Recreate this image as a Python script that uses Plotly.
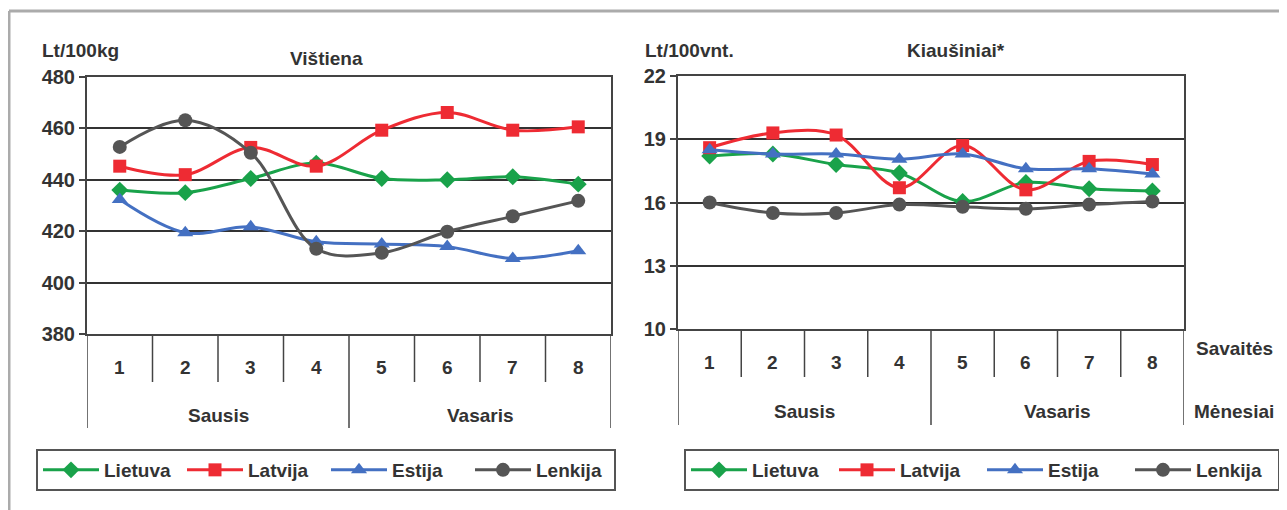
import plotly.graph_objects as go

W, H = 1287, 510
# the page body adds an 8px margin; lay out in reference pixels and shift back
OX, OY = 8, 8

weeks = [1, 2, 3, 4, 5, 6, 7, 8]
week_labels = ["1", "2", "3", "4", "5", "6", "7", "8"]
months = ["Sausis", "Vasaris"]
month_centers = [2.5, 6.5]
countries = ["Lietuva", "Latvija", "Estija", "Lenkija"]

# Viština, Lt/100kg
chicken_lt = [436.0, 435.0, 440.5, 446.5, 440.5, 440.0, 441.2, 438.3]
chicken_lv = [445.3, 442.0, 452.6, 445.3, 459.3, 466.2, 459.3, 460.6]
chicken_ee = [432.3, 419.4, 421.7, 415.9, 415.0, 414.0, 409.4, 412.4]
chicken_pl = [452.8, 463.2, 450.5, 413.2, 411.6, 419.8, 425.8, 431.8]

# Kiaušiniai, Lt/100vnt.
eggs_lt = [18.2, 18.3, 17.8, 17.4, 16.05, 16.95, 16.65, 16.55]
eggs_lv = [18.6, 19.3, 19.2, 16.7, 18.7, 16.6, 17.95, 17.8]
eggs_ee = [18.5, 18.3, 18.3, 18.05, 18.3, 17.6, 17.6, 17.35]
eggs_pl = [16.0, 15.5, 15.5, 15.9, 15.8, 15.7, 15.9, 16.05]

STYLE = {
    "Lietuva": dict(color="#19a24a", symbol="diamond", size=13),
    "Latvija": dict(color="#ee2b33", symbol="square", size=13),
    "Estija": dict(color="#4470c2", symbol="triangle-up", size=14),
    "Lenkija": dict(color="#555555", symbol="circle", size=14),
}
FONT = "Liberation Sans, Arial, sans-serif"
TXT = "#333333"


def px_x(v):
    return (v - OX) / W


def px_y(v):
    return 1 - (v - OY) / H


fig = go.Figure()

for name, vals in zip(countries, [chicken_lt, chicken_lv, chicken_ee, chicken_pl]):
    st = STYLE[name]
    fig.add_trace(go.Scatter(
        x=weeks, y=vals, name=name, mode="lines+markers", xaxis="x", yaxis="y",
        line=dict(color=st["color"], width=3, shape="spline"),
        marker=dict(symbol=st["symbol"], size=st["size"], color=st["color"]),
        legend="legend",
    ))

for name, vals in zip(countries, [eggs_lt, eggs_lv, eggs_ee, eggs_pl]):
    st = STYLE[name]
    fig.add_trace(go.Scatter(
        x=weeks, y=vals, name=name, mode="lines+markers", xaxis="x2", yaxis="y2",
        line=dict(color=st["color"], width=3, shape="spline"),
        marker=dict(symbol=st["symbol"], size=st["size"], color=st["color"]),
        legend="legend2",
    ))

axis_common = dict(showline=True, mirror=True, linecolor="#444", linewidth=2, zeroline=False,
                   automargin=False)
xcommon = dict(axis_common, range=[0.5, 8.5], showgrid=False, showticklabels=False, ticks="")
ycommon = dict(axis_common, showgrid=True, gridcolor="#333", gridwidth=1.5,
               ticks="outside", ticklen=6, tickcolor="#444", tickwidth=1.5,
               tickfont=dict(size=20, color=TXT, family=FONT, weight="bold"))

# panel geometry in reference pixels
panels = [
    dict(x="x", l=87, r=611, t=77, b=334, wd=382, md=428, wy=367, my=415, title="Vištiena",
         tx=326, ty=59, unit="Lt/100kg", ux=40, uy=50),
    dict(x="x2", l=678, r=1184, t=76, b=329, wd=377, md=425, wy=362, my=411, title="Kiaušiniai*",
         tx=956, ty=50, unit="Lt/100vnt.", ux=643, uy=50),
]

fig.update_layout(
    xaxis=dict(xcommon, domain=[px_x(87), px_x(611)], anchor="y"),
    yaxis=dict(ycommon, domain=[px_y(334), px_y(77)], range=[380, 480],
               tickvals=[380, 400, 420, 440, 460, 480], anchor="x"),
    xaxis2=dict(xcommon, domain=[px_x(678), px_x(1184)], anchor="y2"),
    yaxis2=dict(ycommon, domain=[px_y(329), px_y(76)], range=[10, 22],
                tickvals=[10, 13, 16, 19, 22], anchor="x2"),
)

shapes = []
annotations = []


def label(x, y, text, xref="paper", xanchor="center", size=19):
    annotations.append(dict(x=x, y=y, xref=xref, yref="paper", text=text, showarrow=False,
                            xanchor=xanchor, yanchor="middle", font=dict(size=size)))


for p in panels:
    xr = p["x"]
    for k in weeks[:-1]:
        boundary = k + 0.5
        y_end = p["md"] if k == 4 else p["wd"]
        shapes.append(dict(type="line", xref=xr, yref="paper", x0=boundary, x1=boundary,
                           y0=px_y(p["b"]), y1=px_y(y_end), line=dict(color="#444", width=1.5)))
    for edge in (0.5, 8.5):
        shapes.append(dict(type="line", xref=xr, yref="paper", x0=edge, x1=edge,
                           y0=px_y(p["b"]), y1=px_y(p["md"]), line=dict(color="#444", width=1.5)))
    for wk, lab in zip(weeks, week_labels):
        label(wk, px_y(p["wy"]), lab, xref=xr, size=19)
    for mc, mname in zip(month_centers, months):
        label(mc, px_y(p["my"]), mname, xref=xr)
    label(px_x(p["tx"]), px_y(p["ty"]), p["title"])
    label(px_x(p["ux"]), px_y(p["uy"]), p["unit"], xanchor="left")

label(px_x(1234), px_y(348), "Savaitės")
label(px_x(1234), px_y(411), "Mėnesiai")

# outer grey frame
shapes.append(dict(type="line", xref="paper", yref="paper", x0=px_x(9), x1=px_x(9),
                   y0=0, y1=px_y(11), line=dict(color="#ababab", width=3)))
shapes.append(dict(type="line", xref="paper", yref="paper", x0=px_x(9), x1=1,
                   y0=px_y(11), y1=px_y(11), line=dict(color="#ababab", width=3)))

legend_common = dict(orientation="h", xanchor="left", yanchor="top", bgcolor="white",
                     bordercolor="#555", borderwidth=2, itemwidth=56,
                     font=dict(size=19, color=TXT, family=FONT, weight="bold"))

fig.update_layout(
    width=W, height=H,
    margin=dict(l=0, r=0, t=0, b=0),
    paper_bgcolor="white",
    plot_bgcolor="white",
    font=dict(family=FONT, color=TXT, weight="bold"),
    showlegend=True,
    legend=dict(legend_common, x=px_x(36), y=px_y(449), entrywidth=73),
    legend2=dict(legend_common, x=px_x(684), y=px_y(449), entrywidth=77),
    shapes=shapes,
    annotations=annotations,
)

fig.write_html("out.html")
